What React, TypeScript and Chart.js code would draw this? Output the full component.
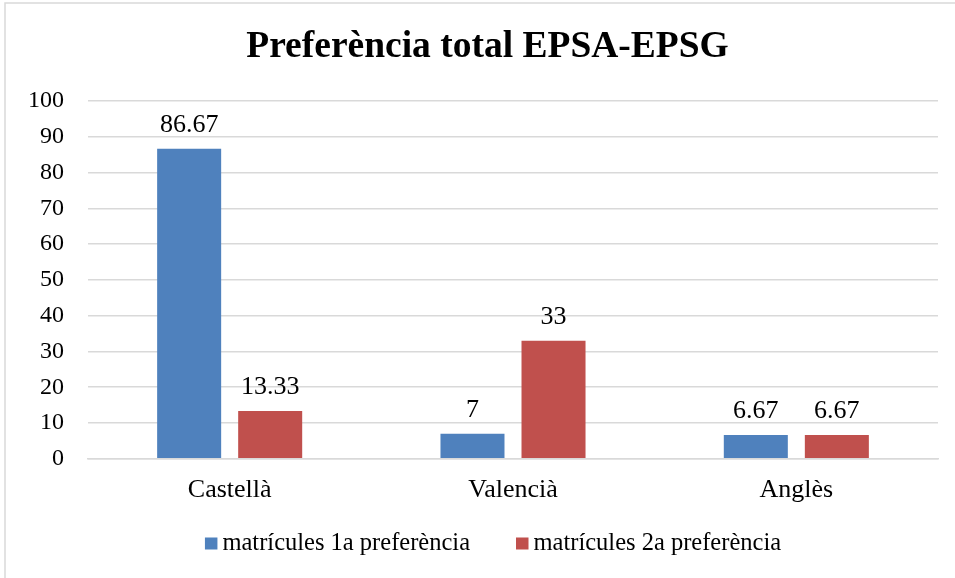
import React, { useEffect, useRef } from "react";
import { Chart, registerables } from "chart.js";

Chart.register(...registerables);

const TITLE = "Preferència total EPSA-EPSG";
const categories = ["Castellà", "Valencià", "Anglès"];
const seriesNames = ["matrícules 1a preferència", "matrícules 2a preferència"];
const series1 = [86.67, 7, 6.67];
const series2 = [13.33, 33, 6.67];
const labels1 = ["86.67", "7", "6.67"];
const labels2 = ["13.33", "33", "6.67"];
const colors = ["#4F81BD", "#C0504D"];
const yMin = 0;
const yMax = 100;
const yStep = 10;

const SERIF = "'Liberation Serif', 'Times New Roman', serif";

const framePlugin = {
  id: "frame",
  beforeDraw(chart: any) {
    const ctx = chart.ctx;
    ctx.save();
    ctx.fillStyle = "#ffffff";
    ctx.fillRect(0, 0, chart.width, chart.height);
    ctx.strokeStyle = "#d9d9d9";
    ctx.lineWidth = 1.5;
    ctx.strokeRect(5, 3, chart.width - 8, chart.height + 20);
    ctx.restore();
  },
};

const titlePlugin = {
  id: "customTitle",
  afterDraw(chart: any) {
    const ctx = chart.ctx;
    ctx.save();
    ctx.font = `bold 37.5px ${SERIF}`;
    ctx.fillStyle = "#000000";
    ctx.textAlign = "center";
    ctx.textBaseline = "middle";
    ctx.fillText(TITLE, 487.5, 47.5);
    ctx.restore();
  },
};

const labelPlugin = {
  id: "valueLabels",
  afterDatasetsDraw(chart: any) {
    const ctx = chart.ctx;
    const allLabels = [labels1, labels2];
    ctx.save();
    ctx.font = `26px ${SERIF}`;
    ctx.fillStyle = "#000000";
    ctx.textAlign = "center";
    ctx.textBaseline = "alphabetic";
    chart.data.datasets.forEach((ds: any, di: number) => {
      const meta = chart.getDatasetMeta(di);
      meta.data.forEach((bar: any, i: number) => {
        ctx.fillText(allLabels[di][i], bar.x, bar.y - 17);
      });
    });
    ctx.restore();
  },
};

const legendPlugin = {
  id: "customLegend",
  afterDraw(chart: any) {
    const ctx = chart.ctx;
    ctx.save();
    ctx.font = `24.5px ${SERIF}`;
    const box = 12.5;
    const gapBox = 5;
    const gapItem = 46;
    const widths = seriesNames.map((n) => ctx.measureText(n).width);
    let total = 0;
    widths.forEach((w, i) => {
      total += box + gapBox + w + (i < widths.length - 1 ? gapItem : 0);
    });
    const centerX = 493;
    const baseline = 550;
    let x = centerX - total / 2;
    ctx.textAlign = "left";
    ctx.textBaseline = "alphabetic";
    seriesNames.forEach((n, i) => {
      ctx.fillStyle = colors[i];
      ctx.fillRect(x, baseline - 12.5, box, 12);
      x += box + gapBox;
      ctx.fillStyle = "#000000";
      ctx.fillText(n, x, baseline);
      x += widths[i] + gapItem;
    });
    ctx.restore();
  },
};

export default function App() {
  const ref = useRef<HTMLCanvasElement | null>(null);
  useEffect(() => {
    if (!ref.current) return;
    const chart = new Chart(ref.current, {
      type: "bar",
      data: {
        labels: categories,
        datasets: [
          {
            label: seriesNames[0],
            data: series1,
            backgroundColor: colors[0],
            categoryPercentage: 0.572,
            barPercentage: 0.79,
          },
          {
            label: seriesNames[1],
            data: series2,
            backgroundColor: colors[1],
            categoryPercentage: 0.572,
            barPercentage: 0.79,
          },
        ],
      },
      options: {
        animation: false,
        responsive: true,
        maintainAspectRatio: false,
        layout: { padding: { left: 4, right: 37, top: 101, bottom: 56 } },
        plugins: {
          title: { display: false },
          legend: { display: false },
          tooltip: { enabled: false },
        },
        scales: {
          x: {
            grid: { display: false, drawTicks: false },
            border: { display: true, color: "#d9d9d9", width: 1.5 },
            ticks: {
              color: "#000000",
              font: { family: SERIF, size: 26 },
              padding: 16,
            },
          },
          y: {
            min: yMin,
            max: yMax,
            grid: { color: "#d9d9d9", lineWidth: 1.5, drawTicks: false },
            border: { display: false },
            ticks: {
              stepSize: yStep,
              color: "#000000",
              font: { family: SERIF, size: 24 },
              padding: 24,
            },
          },
        },
      },
      plugins: [framePlugin, titlePlugin, labelPlugin, legendPlugin],
    });
    return () => chart.destroy();
  }, []);
  return (
    <div style={{ position: "fixed", left: 0, top: 0, width: 955, height: 578, overflow: "hidden", background: "#fff" }}>
      <div style={{ position: "relative", width: 975, height: 578 }}>
        <canvas ref={ref} />
      </div>
    </div>
  );
}
